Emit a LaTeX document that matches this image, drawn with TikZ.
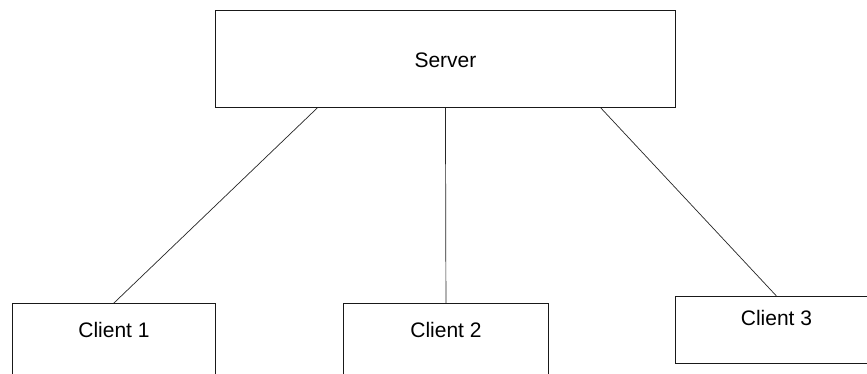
\documentclass[tikz,border=0pt]{standalone}
\usepackage{fontspec}
\setmainfont{Liberation Sans}
\usetikzlibrary{calc}
\begin{document}
\begin{tikzpicture}[x=1pt,y=-1pt,
  box/.style={draw=black!90, line width=0.9pt, inner sep=0pt, anchor=north west,
    font=\fontsize{21}{25}\selectfont},
  link/.style={draw=black!85, line width=0.7pt}]
  % canvas
  \useasboundingbox (0,0) rectangle (867,373);
  \fill[white] (0,0) rectangle (867,373);
  \clip (0,0) rectangle (867,373);

  % server and clients (text height/depth place the label inside each box)
  \node[box, minimum width=460pt, text height=57pt, text depth=40pt] (srv) at (215,10) {Server};
  \node[box, minimum width=203pt, text height=34pt, text depth=53pt] (c1) at (12,303) {Client 1};
  \node[box, minimum width=205pt, text height=34pt, text depth=53pt] (c2) at (343,303) {Client 2};
  \node[box, minimum width=202pt, text height=29pt, text depth=38pt] (c3) at (675,296) {Client 3};

  % connectors
  \draw[link] ($(srv.south west)!0.222!(srv.south east)$) -- (c1.north);
  \draw[link] (srv.south) -- (c2.north);
  \draw[link] ($(srv.south west)!0.837!(srv.south east)$) -- (c3.north);
\end{tikzpicture}
\end{document}
